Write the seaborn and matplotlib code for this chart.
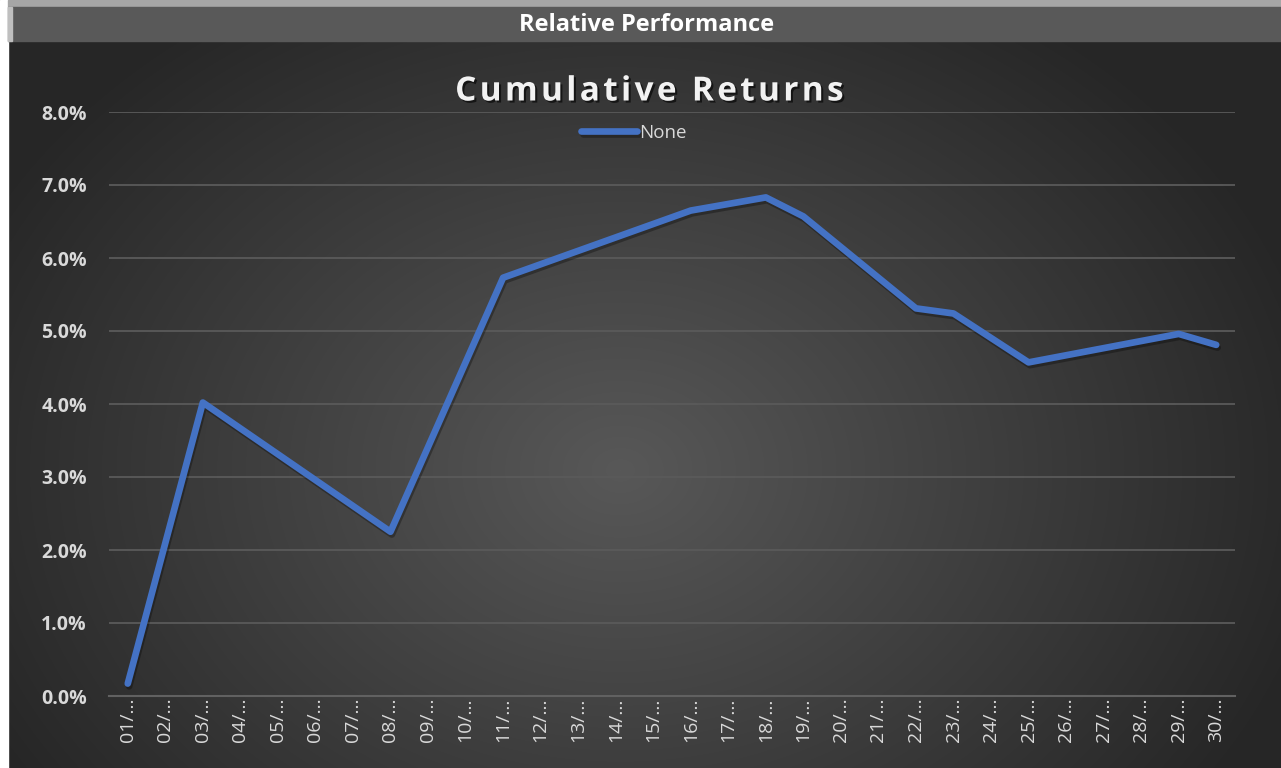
import numpy as np
import seaborn as sns
import matplotlib.pyplot as plt
import matplotlib.patheffects as pe
from matplotlib.patches import Rectangle
from matplotlib.ticker import PercentFormatter

# data (days of the month that carry a value)
days = [1, 3, 8, 11, 16, 18, 19, 22, 23, 25, 29, 30]
returns = [0.0017, 0.0402, 0.0225, 0.0573, 0.0665, 0.0683,
           0.0657, 0.0531, 0.0524, 0.0457, 0.0496, 0.0481]
day_ticks = list(range(1, 31))
day_labels = ["{:02d}/…".format(d) for d in day_ticks]
series_name = "None"
y_ticks = [0.0, 0.01, 0.02, 0.03, 0.04, 0.05, 0.06, 0.07, 0.08]

sns.set_theme(style="dark")
plt.rcParams["font.family"] = ["Open Sans", "DejaVu Sans"]

W, H = 1281, 768
fig = plt.figure(figsize=(W / 100, H / 100), dpi=100)
fig.patch.set_facecolor("white")

# background: radial gradient panel + header bar
bg = fig.add_axes([0, 0, 1, 1])
bg.set_xlim(0, W)
bg.set_ylim(H, 0)
bg.axis("off")
yy, xx = np.mgrid[0:H, 0:W]
r = np.hypot((xx - 620) / 720, (yy - 470) / 560)
shade = (38 + 50 * np.clip(1 - r, 0, 1)) / 255
bg.imshow(np.dstack([shade] * 3), extent=(0, W, H, 0), aspect="auto", zorder=0)
bg.add_patch(Rectangle((0, 0), 8, H, color="white", zorder=1))
bg.add_patch(Rectangle((8, 0), W - 8, 7, color="#a6a6a6", zorder=1))
bg.add_patch(Rectangle((8, 7), W - 8, 34, color="#595959", zorder=1))
bg.add_patch(Rectangle((8, 7), 4, 34, color="#bfbfbf", zorder=1))
bg.text(647, 25, "Relative Performance", ha="center", va="center",
        color="white", fontsize=17, fontweight="bold", zorder=2)

ax = fig.add_axes([109 / W, 1 - 696 / H, (1235 - 109) / W, (696 - 112) / H])
ax.patch.set_alpha(0)

sns.lineplot(x=days, y=returns, ax=ax, color="#4472C4", lw=4.8,
             label=series_name, solid_capstyle="round", solid_joinstyle="round")
ax.lines[0].set_path_effects([
    pe.SimpleLineShadow(offset=(1, -2), shadow_color="black", alpha=0.3),
    pe.Normal(),
])

ax.set_xlim(0.5, 30.5)
ax.set_ylim(0, 0.08)
ax.set_yticks(y_ticks)
ax.yaxis.set_major_formatter(PercentFormatter(1, decimals=1))
ax.set_xticks(day_ticks)
ax.set_xticklabels(day_labels, rotation=90)
ax.grid(False)
ax.yaxis.grid(True, color="#5a5a5a", lw=1.3)
ax.set_axisbelow(True)
for s in ["top", "right", "left"]:
    ax.spines[s].set_visible(False)
ax.spines["bottom"].set_color("#616161")
ax.spines["bottom"].set_linewidth(1.5)
ax.tick_params(axis="y", colors="#d9d9d9", labelsize=14, length=0, pad=16)
ax.tick_params(axis="x", colors="#d9d9d9", labelsize=14, length=0, pad=1)
for lbl in ax.get_yticklabels():
    lbl.set_fontweight("bold")
ax.set_xlabel("")
ax.set_ylabel("")

ax.legend_.remove()
leg = fig.legend(*ax.get_legend_handles_labels(), loc="center",
                 bbox_to_anchor=(634 / W, 1 - 133 / H), frameon=False,
                 fontsize=13.5, handlelength=3.0, handletextpad=0.1,
                 labelcolor="#d9d9d9")

# wide letter spacing as in the reference title
title = "\u200a".join("Cumulative Returns")
fig.text(650 / W, 1 - 92 / H, title, ha="center", va="center",
         color="#f2f2f2", fontsize=24, fontweight="bold",
         path_effects=[pe.withSimplePatchShadow(offset=(1.5, -1.5),
                                                shadow_rgbFace="black", alpha=0.6)])

plt.savefig("out.png", dpi=100)
